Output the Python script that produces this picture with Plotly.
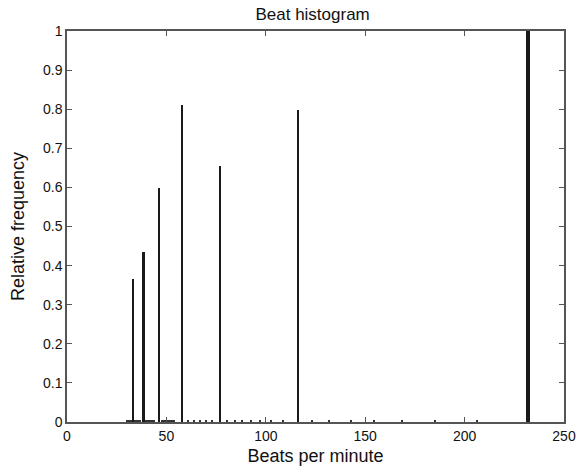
import plotly.graph_objects as go

# Main histogram peaks (BPM, relative frequency)
peak_bpm = [33.1, 38.6, 46.2, 57.9, 77.1, 116.0, 231.8]
peak_freq = [0.366, 0.435, 0.599, 0.811, 0.655, 0.797, 1.0]

# Tiny residual histogram values visible as dots along the baseline
small_bpm = [30, 31, 32, 34, 35, 36, 37, 40, 41, 42, 43, 44, 48, 49, 50, 51, 52, 53, 54,
             61, 64, 67, 70, 73, 80.4, 84.4, 88.3, 92.5, 97, 102.9, 108.9,
             123.2, 132.0, 142.8, 154.4, 168.8, 185.4, 206.4]
small_freq = [0.004] * len(small_bpm)

x_ticks = [0, 50, 100, 150, 200, 250]
y_ticks = [0, 0.1, 0.2, 0.3, 0.4, 0.5, 0.6, 0.7, 0.8, 0.9, 1]
y_ticktext = ["0", "0.1", "0.2", "0.3", "0.4", "0.5", "0.6", "0.7", "0.8", "0.9", "1"]

peak_widths = [0.8, 0.9, 0.8, 0.95, 0.95, 0.6, 1.7]

FONT = "Liberation Sans, Arial"

fig = go.Figure()
fig.add_trace(go.Bar(x=small_bpm, y=small_freq, width=0.6,
                     marker=dict(color="#333333", line=dict(width=0)), showlegend=False))
fig.add_trace(go.Bar(x=peak_bpm, y=peak_freq, width=peak_widths,
                     marker=dict(color="#1a1a1a", line=dict(width=0)), showlegend=False))

axis_common = dict(showgrid=False, zeroline=False, showline=True, linecolor="#555555",
                   linewidth=1.5, mirror="ticks", ticks="inside", ticklen=5,
                   tickcolor="#555555", tickwidth=1, automargin=False,
                   tickfont=dict(family=FONT, size=14, color="#111111"))

fig.update_layout(
    template="none",
    width=580, height=472,
    margin=dict(l=67, r=16, t=31, b=50),
    paper_bgcolor="white", plot_bgcolor="white",
    bargap=0,
    showlegend=False,
    title=dict(text="Beat histogram", x=0.539, xanchor="center", y=0.97, yanchor="middle",
               font=dict(family=FONT, size=17, color="#111111")),
    xaxis=dict(range=[0, 250], tickvals=x_ticks,
               title=dict(text="Beats per minute", standoff=7,
                          font=dict(family=FONT, size=18, color="#111111")),
               **axis_common),
    yaxis=dict(range=[0, 1], tickvals=y_ticks, ticktext=y_ticktext,
               title=dict(text="Relative frequency", standoff=14,
                          font=dict(family=FONT, size=18, color="#111111")),
               **axis_common),
)

fig.write_html("out.html")
